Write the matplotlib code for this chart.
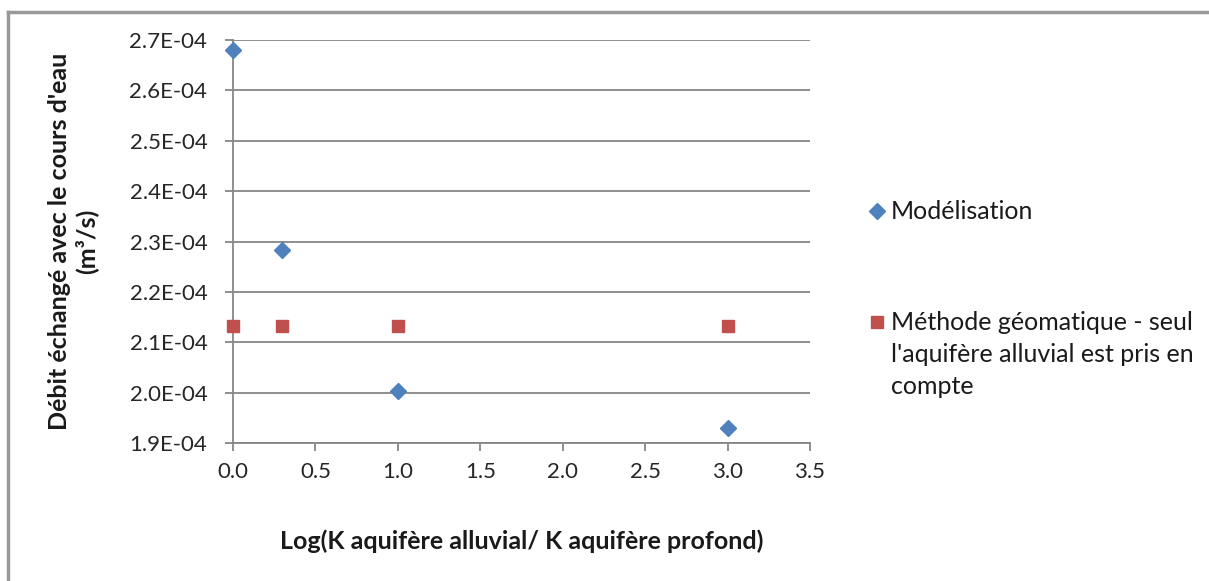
import matplotlib.pyplot as plt
from matplotlib.lines import Line2D
from matplotlib.ticker import FuncFormatter, MultipleLocator

plt.rcParams['font.family'] = ['Lato', 'DejaVu Sans']

log_ratio = [0.0, 0.3, 1.0, 3.0]
debit_modelisation = [2.680e-4, 2.284e-4, 2.004e-4, 1.929e-4]
debit_geomatique = [2.133e-4, 2.133e-4, 2.133e-4, 2.133e-4]
labels = ['Modélisation',
          "Méthode géomatique - seul\nl'aquifère alluvial est pris en\ncompte"]

blue = '#4F81BD'
red = '#C0504D'
grey = '#868686'
W, H = 1209, 581

fig = plt.figure(figsize=(W / 100, H / 100), dpi=100)
ax = fig.add_axes([233 / W, 1 - 443 / H, 577 / W, 403 / H])

ax.plot(log_ratio, debit_modelisation, linestyle='none', marker='D',
        markersize=8, color=blue, clip_on=False, zorder=3)
ax.plot(log_ratio, debit_geomatique, linestyle='none', marker='s',
        markersize=8, color=red, clip_on=False, zorder=3)

ax.set_xlim(0, 3.5)
ax.set_ylim(1.9e-4, 2.7e-4)
ax.xaxis.set_major_locator(MultipleLocator(0.5))
ax.yaxis.set_major_locator(MultipleLocator(1e-5))
ax.xaxis.set_major_formatter(FuncFormatter(lambda v, p: f'{v:.1f}'))
ax.yaxis.set_major_formatter(FuncFormatter(lambda v, p: f'{v:.1E}'))

ax.grid(axis='y', color=grey, linewidth=1.3)
ax.set_axisbelow(True)
for s in ['top', 'right']:
    ax.spines[s].set_visible(False)
for s in ['left', 'bottom']:
    ax.spines[s].set_color(grey)
    ax.spines[s].set_linewidth(1.3)
ax.tick_params(axis='both', colors=grey, length=6, width=1.3, labelsize=16,
               labelcolor='#262626')
ax.tick_params(axis='y', pad=12.5)
ax.tick_params(axis='x', pad=8)

ax.set_xlabel('Log(K aquifère alluvial/ K aquifère profond)', fontsize=18,
              fontweight='bold', color='#1a1a1a')
ax.xaxis.set_label_coords(0.5, -0.215)
ax.set_ylabel("Débit échangé avec le cours d'eau\n(m³/s)", fontsize=18,
              fontweight='bold', linespacing=1.15, color='#1a1a1a')
ax.yaxis.set_label_coords(-0.234, 0.5)

# legend, drawn by hand so the marker sits on the first line of the text
leg_y = [211, 322]
fig.add_artist(Line2D([877 / W], [1 - leg_y[0] / H], marker='D', markersize=8,
                      color=blue, linestyle='none'))
fig.add_artist(Line2D([877 / W], [1 - leg_y[1] / H], marker='s', markersize=8,
                      color=red, linestyle='none'))
for lab, y in zip(labels, leg_y):
    fig.text(891 / W, 1 - (y - 11.5) / H, lab, fontsize=18, va='top', ha='left',
             linespacing=1.5, color='#1a1a1a')

fig.add_artist(Line2D([8 / W, 8 / W], [0, 1 - 12 / H], color='#999999',
                      linewidth=2.5))
fig.add_artist(Line2D([8 / W, 1], [1 - 12 / H, 1 - 12 / H], color='#999999',
                      linewidth=2.5))

fig.savefig('out.png', dpi=100)
